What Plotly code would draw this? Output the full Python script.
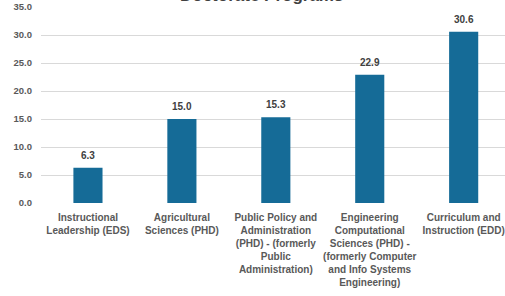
import plotly.graph_objects as go

categories = [
    "Instructional<br>Leadership (EDS)",
    "Agricultural<br>Sciences (PHD)",
    "Public Policy and<br>Administration<br>(PHD) - (formerly<br>Public<br>Administration)",
    "Engineering<br>Computational<br>Sciences (PHD) -<br>(formerly Computer<br>and Info Systems<br>Engineering)",
    "Curriculum and<br>Instruction (EDD)",
]
values = [6.3, 15.0, 15.3, 22.9, 30.6]
value_labels = ["6.3", "15.0", "15.3", "22.9", "30.6"]
title_text = "Doctorate Programs"

xs = list(range(len(categories)))

fig = go.Figure(go.Bar(
    x=xs,
    y=values,
    marker=dict(color="#156b97", line=dict(width=0)),
    hoverinfo="skip",
))

annotations = [
    dict(
        x=x, y=v, text=t, xref="x", yref="y",
        xanchor="center", yanchor="bottom", yshift=5, showarrow=False,
        font=dict(family="Liberation Sans", size=10, color="#404040", weight="bold"),
    )
    for x, v, t in zip(xs, values, value_labels)
]
annotations.append(dict(
    text=title_text, xref="paper", yref="paper", x=0.475, y=1.0,
    xanchor="center", yanchor="bottom", showarrow=False,
    font=dict(family="Liberation Sans", size=17, color="#404040", weight="bold"),
))

fig.update_layout(
    width=505, height=296,
    margin=dict(l=41, r=0, t=7, b=93),
    paper_bgcolor="white", plot_bgcolor="white",
    bargap=0.69,
    showlegend=False,
    xaxis=dict(
        tickmode="array",
        tickvals=xs,
        ticktext=categories,
        range=[-0.5, 4.44],
        showgrid=False, zeroline=False, showline=False,
        tickfont=dict(family="Liberation Sans", size=10, color="#595959", weight="bold"),
        tickangle=0, automargin=False, ticks="", ticklabelstandoff=7,
    ),
    yaxis=dict(
        range=[0, 35], dtick=5, tickformat=".1f",
        showgrid=True, gridcolor="#d9d9d9", gridwidth=1,
        zeroline=False, showline=False, automargin=False,
        tickfont=dict(family="Liberation Sans", size=9.5, color="#595959", weight="bold"),
        ticks="", ticklabelstandoff=8,
    ),
    annotations=annotations,
)

fig.write_html("out.html", config={"displayModeBar": False},
               post_script="document.body.style.margin='0';")
